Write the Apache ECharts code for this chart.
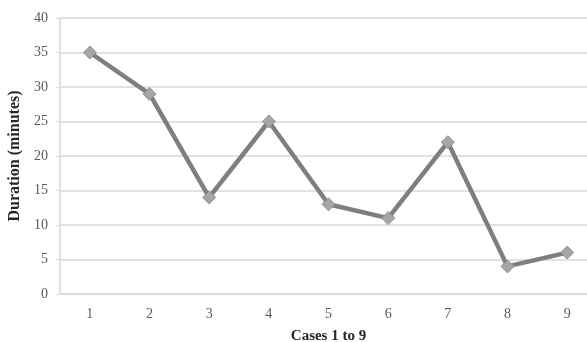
<!DOCTYPE html>
<html><head><meta charset="utf-8">
<script src="https://cdn.jsdelivr.net/npm/echarts@6/dist/echarts.min.js"></script>
<style>html,body{margin:0;padding:0;background:#fff}#c{width:587px;height:342px}</style>
</head><body><div id="c"></div>
<script>
const categories = ['1','2','3','4','5','6','7','8','9'];
const durations = [35, 29, 14, 25, 13, 11, 22, 4, 6];
const yTicks = {min: 0, max: 40, interval: 5};
const xTitle = 'Cases 1 to 9';
const yTitle = 'Duration (minutes)';

const chart = echarts.init(document.getElementById('c'), null, {renderer: 'canvas'});
const serif = 'Liberation Serif';
chart.setOption({
  animation: false,
  grid: {left: 60, top: 18, width: 537, height: 276, containLabel: false, outerBoundsMode: 'none'},
  xAxis: {
    type: 'category', data: categories, boundaryGap: true,
    axisLine: {lineStyle: {color: '#d9d9d9', width: 1.5}},
    axisTick: {show: false},
    axisLabel: {color: '#595959', fontFamily: serif, fontSize: 14, margin: 13},
    name: xTitle, nameLocation: 'middle', nameGap: 35,
    nameTextStyle: {fontFamily: serif, fontWeight: 'bold', fontSize: 15, color: '#262626'}
  },
  yAxis: {
    type: 'value', min: yTicks.min, max: yTicks.max, interval: yTicks.interval,
    axisLine: {show: true, lineStyle: {color: '#d9d9d9', width: 1.5}},
    axisTick: {show: true, length: 4, lineStyle: {color: '#d9d9d9'}},
    splitLine: {lineStyle: {color: '#d9d9d9', width: 1.5}},
    axisLabel: {color: '#595959', fontFamily: serif, fontSize: 14, margin: 12},
    name: yTitle, nameLocation: 'middle', nameGap: 35, nameRotate: 90,
    nameTextStyle: {fontFamily: serif, fontWeight: 'bold', fontSize: 16, color: '#262626'}
  },
  series: [{
    type: 'line', data: durations,
    symbol: 'diamond', symbolSize: 13,
    lineStyle: {color: '#7f7f7f', width: 4.5},
    itemStyle: {color: '#a6a6a6', borderColor: '#8c8c8c', borderWidth: 1}
  }]
});
</script></body></html>
